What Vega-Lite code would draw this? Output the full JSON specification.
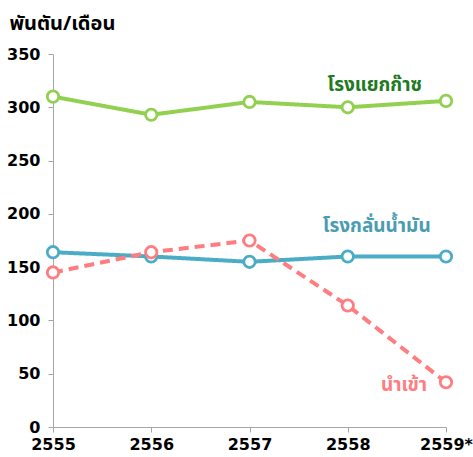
{
  "$schema": "https://vega.github.io/schema/vega-lite/v6.json",
  "autosize": {"type": "none"},
  "width": 393,
  "height": 373,
  "padding": {"left": 53, "top": 54, "right": 27, "bottom": 30},
  "background": "white",
  "config": {"view": {"stroke": null}, "font": "Noto Sans Thai, Noto Sans, Tahoma, DejaVu Sans, sans-serif"},
  "data": {
    "values": [
      {"year": "2555", "series": "โรงแยกก๊าซ", "value": 310},
      {"year": "2556", "series": "โรงแยกก๊าซ", "value": 293},
      {"year": "2557", "series": "โรงแยกก๊าซ", "value": 305},
      {"year": "2558", "series": "โรงแยกก๊าซ", "value": 300},
      {"year": "2559*", "series": "โรงแยกก๊าซ", "value": 306},
      {"year": "2555", "series": "โรงกลั่นน้ำมัน", "value": 164},
      {"year": "2556", "series": "โรงกลั่นน้ำมัน", "value": 160},
      {"year": "2557", "series": "โรงกลั่นน้ำมัน", "value": 155},
      {"year": "2558", "series": "โรงกลั่นน้ำมัน", "value": 160},
      {"year": "2559*", "series": "โรงกลั่นน้ำมัน", "value": 160},
      {"year": "2555", "series": "นำเข้า", "value": 145},
      {"year": "2556", "series": "นำเข้า", "value": 164},
      {"year": "2557", "series": "นำเข้า", "value": 175},
      {"year": "2558", "series": "นำเข้า", "value": 114},
      {"year": "2559*", "series": "นำเข้า", "value": 42}
    ]
  },
  "encoding": {
    "x": {
      "field": "year", "type": "ordinal",
      "scale": {"type": "point", "padding": 0},
      "axis": {
        "title": null, "labelAngle": 0, "labelFont": "DejaVu Sans", "labelFontWeight": "bold",
        "labelFontSize": 16, "labelColor": "black", "labelPadding": 4,
        "domainColor": "#a6a6a6", "tickColor": "#a6a6a6", "tickSize": 5, "labelFlush": false
      }
    },
    "y": {
      "field": "value", "type": "quantitative",
      "scale": {"domain": [0, 350]},
      "axis": {
        "values": [0, 50, 100, 150, 200, 250, 300, 350], "grid": false,
        "labelFont": "DejaVu Sans", "labelFontWeight": "bold", "labelFontSize": 16,
        "labelColor": "black", "labelPadding": 8,
        "domainColor": "#a6a6a6", "tickColor": "#a6a6a6", "tickSize": 5,
        "title": "พันตัน/เดือน", "titleAngle": 0, "titleX": -44, "titleY": -31,
        "titleAlign": "left", "titleBaseline": "middle", "titleFontSize": 20,
        "titleFontWeight": "bold", "titleColor": "black"
      }
    },
    "color": {
      "field": "series", "type": "nominal", "legend": null,
      "scale": {"domain": ["โรงแยกก๊าซ", "โรงกลั่นน้ำมัน", "นำเข้า"], "range": ["#92d050", "#4bacc6", "#ff7c80"]}
    }
  },
  "layer": [
    {
      "mark": {"type": "line", "strokeWidth": 4},
      "encoding": {
        "strokeDash": {
          "field": "series", "type": "nominal", "legend": null,
          "scale": {"domain": ["โรงแยกก๊าซ", "โรงกลั่นน้ำมัน", "นำเข้า"], "range": [[1, 0], [1, 0], [10, 6]]}
        }
      }
    },
    {
      "mark": {"type": "point", "filled": false, "fill": "white", "fillOpacity": 1, "size": 130, "strokeWidth": 2.8, "opacity": 1}
    },
    {
      "transform": [{"filter": "datum.series == 'โรงแยกก๊าซ' && datum.year == '2558'"}],
      "mark": {"type": "text", "dx": 27, "dy": -22, "fontSize": 19, "fontWeight": "bold"},
      "encoding": {"text": {"field": "series"}, "color": {"value": "#217a21"}}
    },
    {
      "transform": [{"filter": "datum.series == 'โรงกลั่นน้ำมัน' && datum.year == '2558'"}],
      "mark": {"type": "text", "dx": 29, "dy": -30, "fontSize": 19, "fontWeight": "bold"},
      "encoding": {"text": {"field": "series"}, "color": {"value": "#4a9cb2"}}
    },
    {
      "transform": [{"filter": "datum.series == 'นำเข้า' && datum.year == '2559*'"}],
      "mark": {"type": "text", "align": "right", "dx": -19, "dy": 3, "fontSize": 19, "fontWeight": "bold"},
      "encoding": {"text": {"field": "series"}, "color": {"value": "#ff7c80"}}
    }
  ]
}
